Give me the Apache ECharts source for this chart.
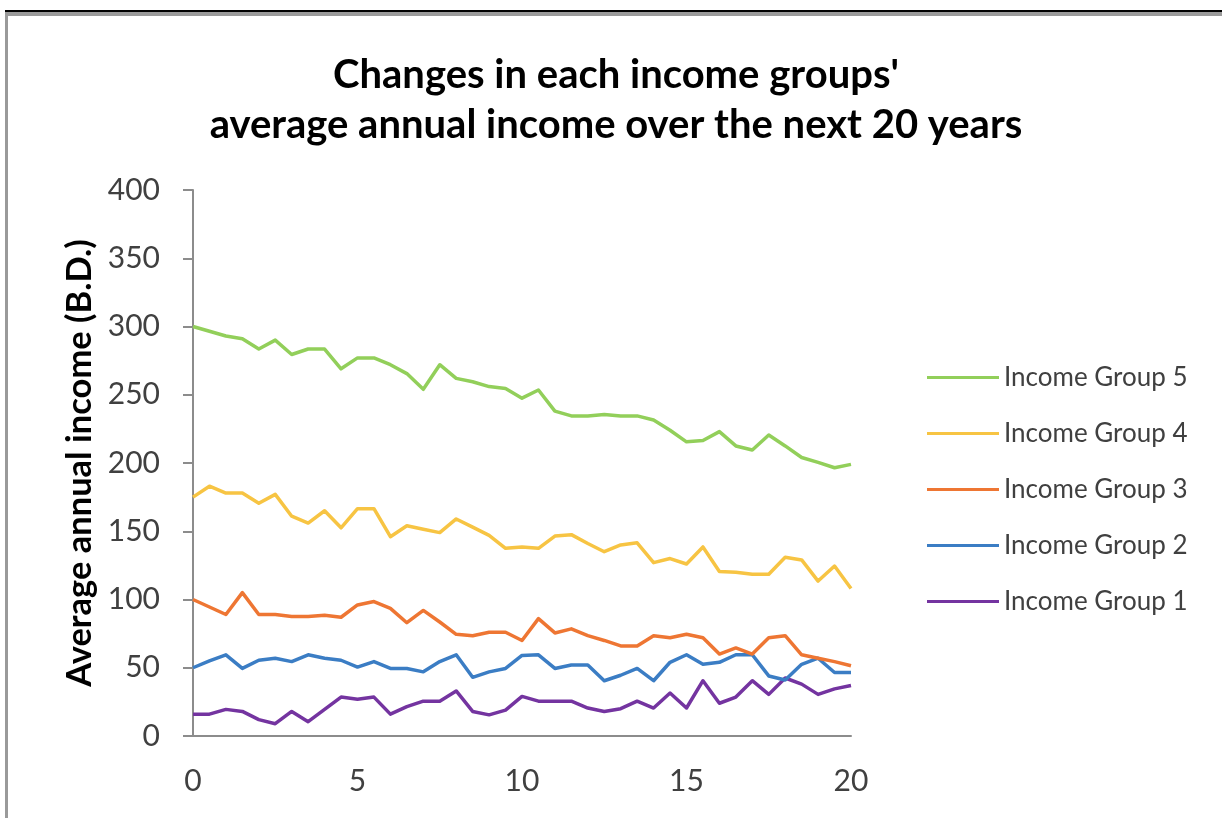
<!DOCTYPE html>
<html>
<head>
<meta charset="utf-8">
<script src="https://cdn.jsdelivr.net/npm/echarts@6/dist/echarts.min.js"></script>
<style>
  html, body { margin: 0; padding: 0; background: #ffffff; }
  #frameTopBlack { position: absolute; left: 5px; top: 10px; width: 1217px; height: 2px; background: #000000; }
  #frameTopGray { position: absolute; left: 5px; top: 12px; width: 1217px; height: 4px; background: #9a9a9a; }
  #frameLeft { position: absolute; left: 5px; top: 12px; width: 3px; height: 806px; background: #9a9a9a; }
  #chart { position: absolute; left: 0; top: 0; width: 1222px; height: 818px; }
</style>
</head>
<body>
<div id="chart"></div>
<div id="frameTopBlack"></div>
<div id="frameTopGray"></div>
<div id="frameLeft"></div>
<script>
// Years (x values)
const years = [0, 0.5, 1, 1.5, 2, 2.5, 3, 3.5, 4, 4.5, 5, 5.5, 6, 6.5, 7, 7.5, 8, 8.5, 9, 9.5, 10,
               10.5, 11, 11.5, 12, 12.5, 13, 13.5, 14, 14.5, 15, 15.5, 16, 16.5, 17, 17.5, 18, 18.5, 19, 19.5, 20];

const group5 = [300, 296.5, 293, 291, 283.5, 290, 279.5, 283.5, 283.5, 269, 277, 277, 272, 265.5, 254, 272, 262, 259.5, 256, 254.5, 247.5,
                253.5, 238, 234.5, 234.5, 235.5, 234.5, 234.5, 231.5, 224, 215.5, 216.5, 223, 212.5, 209.5, 220.5, 212.5, 204, 200.5, 196.5, 199];
const group4 = [175, 183, 178, 178, 170.5, 177, 161, 156, 165, 152.5, 166.5, 166.5, 146, 154, 151.5, 149, 159, 153, 147, 137.5, 138.5,
                137.5, 146.5, 147.5, 141, 135, 140, 141.5, 127, 130, 126, 138.5, 120.5, 120, 118.5, 118.5, 131, 129, 113.5, 124.5, 108];
const group3 = [100, 94.5, 89, 105, 89, 89, 87.5, 87.5, 88.5, 87, 96, 98.5, 93.5, 83, 92, 83.5, 74.5, 73.5, 76, 76, 70,
                86, 75.5, 78.5, 73.5, 70, 66, 66, 73.5, 72, 74.5, 72, 60, 64.5, 60, 72, 73.5, 59.5, 57, 54.5, 51.5];
const group2 = [50, 55, 59.5, 49.5, 55.5, 57, 54.5, 59.5, 57, 55.5, 50.5, 54.5, 49.5, 49.5, 47, 54.5, 59.5, 43, 47, 49.5, 59,
                59.5, 49.5, 52, 52, 40.5, 44.5, 49.5, 40.5, 54, 59.5, 52.5, 54, 59.5, 59.5, 44, 41, 52.5, 57, 46.5, 46.5];
const group1 = [16, 16, 19.5, 18, 12, 9, 18, 10.5, 19.5, 28.5, 27, 28.5, 16, 21.5, 25.5, 25.5, 33, 18, 15.5, 19, 29,
                25.5, 25.5, 25.5, 20.5, 18, 20, 25.5, 20.5, 31.5, 20.5, 40.5, 24, 28.5, 40.5, 30.5, 42.5, 38, 30.5, 34.5, 37];

const seriesNames = ['Income Group 1', 'Income Group 2', 'Income Group 3', 'Income Group 4', 'Income Group 5'];
const legendOrder = ['Income Group 5', 'Income Group 4', 'Income Group 3', 'Income Group 2', 'Income Group 1'];
const yTicks = [0, 50, 100, 150, 200, 250, 300, 350, 400];
const xTicks = [0, 5, 10, 15, 20];

const colors = ['#7434A0', '#3B7DC4', '#EE7633', '#F7C443', '#92CF5A'];
const dataSets = [group1, group2, group3, group4, group5];

function pairs(vals) { return years.map((x, i) => [x, vals[i]]); }

const chart = echarts.init(document.getElementById('chart'), null, { renderer: 'canvas' });
const font = 'Lato';

chart.setOption({
  animation: false,
  backgroundColor: 'transparent',
  title: {
    text: "Changes in each income groups'\naverage annual income over the next 20 years",
    left: 611,
    top: 45,
    textAlign: 'center',
    textStyle: { fontFamily: font, fontWeight: 'bold', fontSize: 40, lineHeight: 50, color: '#000000' }
  },
  legend: {
    data: legendOrder,
    orient: 'vertical',
    left: 922,
    top: 357,
    icon: 'rect',
    itemWidth: 72,
    itemHeight: 3,
    itemGap: 25,
    textStyle: { fontFamily: font, fontSize: 26, color: '#404040', lineHeight: 31 }
  },
  grid: { left: 193, right: 371, top: 190, bottom: 82, containLabel: false },
  xAxis: {
    type: 'value',
    min: xTicks[0],
    max: xTicks[xTicks.length - 1],
    interval: 5,
    axisLine: { show: true, lineStyle: { color: '#8c8c8c', width: 2 } },
    axisTick: { show: false },
    splitLine: { show: false },
    axisLabel: { margin: 30, fontFamily: font, fontSize: 30, color: '#404040' }
  },
  yAxis: {
    type: 'value',
    min: yTicks[0],
    max: yTicks[yTicks.length - 1],
    interval: 50,
    name: 'Average annual income (B.D.)',
    nameLocation: 'middle',
    nameGap: 94,
    nameTextStyle: { fontFamily: font, fontWeight: 'bold', fontSize: 34.5, color: '#000000' },
    axisLine: { show: true, lineStyle: { color: '#8c8c8c', width: 2 } },
    axisTick: { show: true, length: 10, inside: false, lineStyle: { color: '#8c8c8c', width: 2 } },
    splitLine: { show: false },
    axisLabel: { margin: 33, fontFamily: font, fontSize: 30, color: '#404040' }
  },
  series: seriesNames.map((name, k) => ({
    name: name,
    type: 'line',
    data: pairs(dataSets[k]),
    showSymbol: false,
    symbol: 'none',
    lineStyle: { color: colors[k], width: 3.5, join: 'round' },
    itemStyle: { color: colors[k] },
    z: 2
  }))
});
</script>
</body>
</html>
